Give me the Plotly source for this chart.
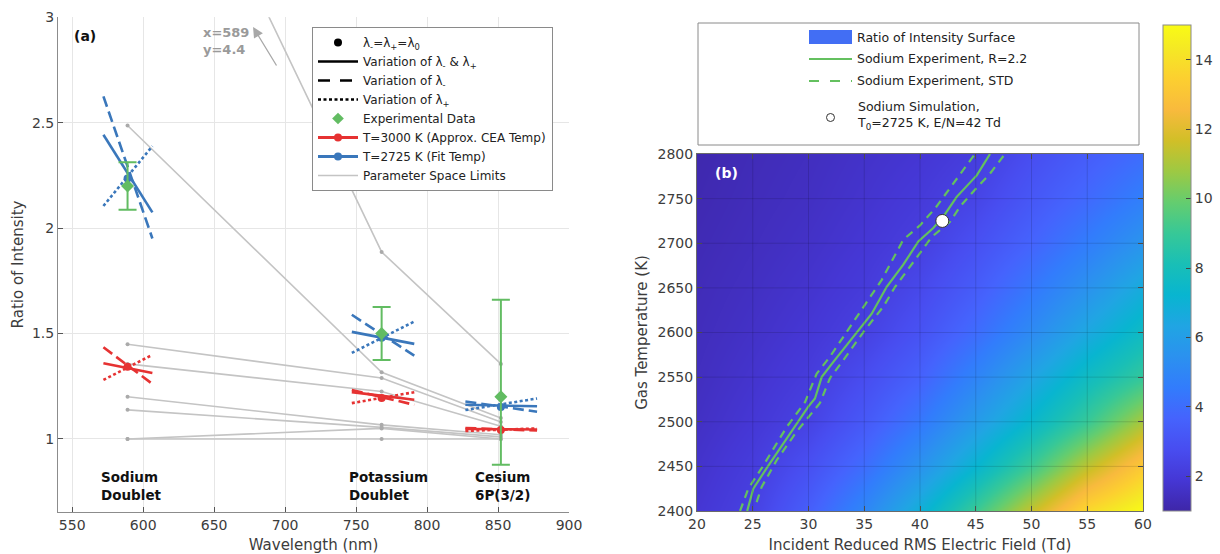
import plotly.graph_objects as go

# ---------------- Panel (a) data ----------------
element_labels = ["Sodium<br>Doublet", "Potassium<br>Doublet", "Cesium<br>6P(3/2)"]
wavelength_nm = [589, 768, 852]
seg_lo_nm = [572, 747, 827]
seg_hi_nm = [606.5, 791, 877.5]

exp_ratio = [2.2, 1.5, 1.2]
exp_err_plus = [0.113, 0.126, 0.46]
exp_err_minus = [0.113, 0.126, 0.322]

t3000_center = [1.343, 1.194, 1.043]
t3000_both_lo = [1.359, 1.222, 1.047]
t3000_both_hi = [1.313, 1.186, 1.045]
t3000_minus_lo = [1.435, 1.232, 1.052]
t3000_minus_hi = [1.261, 1.162, 1.040]
t3000_plus_lo = [1.280, 1.170, 1.038]
t3000_plus_hi = [1.399, 1.222, 1.050]

t2725_center = [2.236, 1.480, 1.152]
t2725_both_lo = [2.443, 1.508, 1.162]
t2725_both_hi = [2.075, 1.451, 1.155]
t2725_minus_lo = [2.625, 1.589, 1.178]
t2725_minus_hi = [1.951, 1.395, 1.129]
t2725_plus_lo = [2.105, 1.408, 1.137]
t2725_plus_hi = [2.389, 1.557, 1.192]

limits_na = [4.4, 2.487, 1.449, 1.356, 1.200, 1.138, 1.000, 1.000]
limits_k = [1.887, 1.316, 1.289, 1.225, 1.067, 1.055, 1.050, 1.000]
limits_cs = [1.356, 1.100, 1.080, 1.060, 1.020, 1.010, 1.000, 1.000]

x_ticks_a = [550, 600, 650, 700, 750, 800, 850, 900]
y_ticks_a = [1, 1.5, 2, 2.5, 3]

# ---------------- Panel (b) data ----------------
efield_td = [20, 25, 30, 35, 40, 45, 50, 55, 60]
gas_temp_k = [2400, 2450, 2500, 2550, 2600, 2650, 2700, 2750, 2800]
ratio_surface = [
    [1.85, 2.32, 3.50, 5.00, 6.90, 9.10, 11.5, 13.8, 15.0],
    [1.70, 2.12, 2.90, 4.00, 5.50, 7.20, 9.10, 11.3, 13.2],
    [1.55, 1.90, 2.36, 3.25, 4.40, 5.90, 7.40, 9.00, 11.0],
    [1.45, 1.75, 2.10, 2.75, 3.60, 4.90, 6.30, 7.70, 8.90],
    [1.38, 1.62, 1.90, 2.30, 3.00, 4.00, 5.20, 6.50, 7.70],
    [1.32, 1.52, 1.75, 2.05, 2.60, 3.40, 4.40, 5.50, 6.70],
    [1.25, 1.43, 1.62, 1.88, 2.22, 2.90, 3.70, 4.60, 5.60],
    [1.18, 1.36, 1.52, 1.75, 2.02, 2.45, 3.20, 3.90, 4.70],
    [1.12, 1.30, 1.45, 1.65, 1.85, 2.15, 2.80, 3.40, 4.00],
]

r22_e = [24.5, 25.05, 26.25, 28.34, 29.98, 30.58, 31.18, 32.23, 34.02, 35.67,
         37.0, 38.5, 39.85, 41.19, 42.1, 43.29, 45.09, 46.28]
r22_t = [2400, 2425, 2448, 2487, 2517, 2526, 2550, 2567, 2595, 2621,
         2651, 2676, 2702, 2717, 2730, 2752, 2776, 2800]

std_lo_e = [23.86, 24.6, 25.8, 28.04, 29.69, 30.74, 31.93, 33.43, 35.37, 36.57,
            38.5, 40.0, 41.35, 42.99, 44.93]
std_lo_t = [2400, 2425, 2448, 2494, 2522, 2554, 2573, 2601, 2636, 2659,
            2704, 2720, 2739, 2767, 2800]

std_hi_e = [25.35, 25.8, 27.15, 28.94, 31.03, 31.93, 33.12, 35.07, 36.71, 37.76,
            40.0, 41.05, 42.69, 43.59, 44.93, 46.28, 47.62]
std_hi_t = [2410, 2427, 2457, 2489, 2521, 2549, 2569, 2603, 2629, 2651,
            2689, 2707, 2724, 2741, 2760, 2778, 2800]

sim_e = [42]
sim_t = [2725]

x_ticks_b = [20, 25, 30, 35, 40, 45, 50, 55, 60]
y_ticks_b = [2400, 2450, 2500, 2550, 2600, 2650, 2700, 2750, 2800]
cbar_ticks = [2, 4, 6, 8, 10, 12, 14]

# ---------------- styles ----------------
FONT = "DejaVu Sans"
RED = "rgb(230,50,50)"
BLUE = "rgb(58,119,187)"
GREEN = "rgb(98,188,98)"
GRAY = "rgb(196,196,196)"
GREEN_B = "rgb(100,192,95)"
TXT = "#3c3c3c"
DASH = "11px,5px"
DOT = "3px,2.5px"

parula = [
    [0 / 63, "rgb(62,38,168)"], [4 / 63, "rgb(69,55,213)"], [8 / 63, "rgb(72,77,240)"],
    [12 / 63, "rgb(69,99,253)"], [16 / 63, "rgb(50,124,252)"], [20 / 63, "rgb(43,145,239)"],
    [24 / 63, "rgb(32,165,227)"], [28 / 63, "rgb(8,181,208)"], [32 / 63, "rgb(25,191,182)"],
    [36 / 63, "rgb(55,200,151)"], [40 / 63, "rgb(100,205,111)"], [44 / 63, "rgb(157,201,67)"],
    [48 / 63, "rgb(209,191,39)"], [52 / 63, "rgb(248,186,61)"], [56 / 63, "rgb(252,207,48)"],
    [60 / 63, "rgb(245,233,36)"], [1.0, "rgb(249,251,21)"],
]

W, H = 1220, 554


def px(xp):
    return xp / W


def py(yp):
    return 1 - yp / H


fig = go.Figure()


def segs(lo_vals, hi_vals):
    xs, ys = [], []
    for i in range(len(wavelength_nm)):
        xs += [seg_lo_nm[i], seg_hi_nm[i], None]
        ys += [lo_vals[i], hi_vals[i], None]
    return xs, ys


# Parameter-space limit lines
for i in range(len(limits_na)):
    fig.add_trace(go.Scatter(
        x=wavelength_nm, y=[limits_na[i], limits_k[i], limits_cs[i]],
        mode="lines+markers", line=dict(color=GRAY, width=1.6),
        marker=dict(color="rgb(170,170,170)", size=4),
        showlegend=False, hoverinfo="skip", xaxis="x", yaxis="y"))

# Temperature series segments
for color, center, both, minus, plus in [
    (RED, t3000_center, (t3000_both_lo, t3000_both_hi), (t3000_minus_lo, t3000_minus_hi), (t3000_plus_lo, t3000_plus_hi)),
    (BLUE, t2725_center, (t2725_both_lo, t2725_both_hi), (t2725_minus_lo, t2725_minus_hi), (t2725_plus_lo, t2725_plus_hi)),
]:
    for pair, dash in [(both, "solid"), (minus, DASH), (plus, DOT)]:
        xs, ys = segs(*pair)
        fig.add_trace(go.Scatter(x=xs, y=ys, mode="lines",
                                 line=dict(color=color, width=2.6, dash=dash),
                                 showlegend=False, xaxis="x", yaxis="y"))
    fig.add_trace(go.Scatter(x=wavelength_nm, y=center, mode="markers",
                             marker=dict(color=color, size=8),
                             showlegend=False, xaxis="x", yaxis="y"))

# Experimental data
fig.add_trace(go.Scatter(
    x=wavelength_nm, y=exp_ratio, mode="markers",
    marker=dict(symbol="diamond", color=GREEN, size=10),
    error_y=dict(type="data", symmetric=False, array=exp_err_plus,
                 arrayminus=exp_err_minus, color=GREEN, thickness=2, width=9),
    showlegend=False, xaxis="x", yaxis="y"))

# Legend entries for panel (a)
legend_items = [
    ("λ<sub>-</sub>=λ<sub>+</sub>=λ<sub>0</sub>", dict(mode="markers", marker=dict(color="black", size=8))),
    ("Variation of λ<sub>-</sub> &amp; λ<sub>+</sub>", dict(mode="lines", line=dict(color="black", width=2.6))),
    ("Variation of λ<sub>-</sub>", dict(mode="lines", line=dict(color="black", width=2.6, dash="12px,10px"))),
    ("Variation of λ<sub>+</sub>", dict(mode="lines", line=dict(color="black", width=2.6, dash=DOT))),
    ("Experimental Data", dict(mode="markers", marker=dict(symbol="diamond", color=GREEN, size=9))),
    ("T=3000 K (Approx. CEA Temp)", dict(mode="lines+markers", line=dict(color=RED, width=3), marker=dict(color=RED, size=8))),
    ("T=2725 K (Fit Temp)", dict(mode="lines+markers", line=dict(color=BLUE, width=3), marker=dict(color=BLUE, size=8))),
    ("Parameter Space Limits", dict(mode="lines", line=dict(color=GRAY, width=1.6))),
]
for name, kw in legend_items:
    fig.add_trace(go.Scatter(x=[None], y=[None], name=name, showlegend=True,
                             xaxis="x", yaxis="y", **kw))

# ---------------- Panel (b) ----------------
fig.add_trace(go.Heatmap(
    x=efield_td, y=gas_temp_k, z=ratio_surface, zsmooth="best",
    colorscale=parula, zmin=1, zmax=15, xaxis="x2", yaxis="y2",
    colorbar=dict(x=px(1163), xanchor="left", xpad=0, ypad=0, thickness=28,
                  len=486, lenmode="pixels", y=py(511), yanchor="bottom",
                  tickvals=cbar_ticks, ticks="inside", ticklen=5, tickcolor="#444",
                  outlinecolor="#8a8a8a", outlinewidth=1,
                  tickfont=dict(size=14, color=TXT, family=FONT)),
    showscale=True))

fig.add_trace(go.Scatter(x=std_lo_e, y=std_lo_t, mode="lines",
                         line=dict(color=GREEN_B, width=2.2, dash="8px,6px"),
                         showlegend=False, xaxis="x2", yaxis="y2"))
fig.add_trace(go.Scatter(x=std_hi_e, y=std_hi_t, mode="lines",
                         line=dict(color=GREEN_B, width=2.2, dash="8px,6px"),
                         showlegend=False, xaxis="x2", yaxis="y2"))
fig.add_trace(go.Scatter(x=r22_e, y=r22_t, mode="lines",
                         line=dict(color=GREEN_B, width=2.2),
                         showlegend=False, xaxis="x2", yaxis="y2"))
fig.add_trace(go.Scatter(x=sim_e, y=sim_t, mode="markers",
                         marker=dict(color="white", size=13, line=dict(color="#333", width=1)),
                         showlegend=False, xaxis="x2", yaxis="y2"))

shapes = []
# grid over heatmap
for xv in x_ticks_b[1:-1]:
    shapes.append(dict(type="line", xref="x2", yref="y2", x0=xv, x1=xv,
                       y0=y_ticks_b[0], y1=y_ticks_b[-1], layer="above",
                       line=dict(color="rgba(0,0,0,0.13)", width=1)))
for yv in y_ticks_b[1:-1]:
    shapes.append(dict(type="line", xref="x2", yref="y2", y0=yv, y1=yv,
                       x0=x_ticks_b[0], x1=x_ticks_b[-1], layer="above",
                       line=dict(color="rgba(0,0,0,0.13)", width=1)))

# manual legend box for panel (b)
shapes.append(dict(type="rect", xref="paper", yref="paper", x0=px(698), x1=px(1139),
                   y0=py(145), y1=py(23), line=dict(color="#8a8a8a", width=1),
                   fillcolor="white", layer="above"))
shapes.append(dict(type="rect", xref="paper", yref="paper", x0=px(809), x1=px(852),
                   y0=py(44), y1=py(30), line=dict(width=0),
                   fillcolor="rgb(66,110,244)", layer="above"))
shapes.append(dict(type="line", xref="paper", yref="paper", x0=px(809), x1=px(852),
                   y0=py(59), y1=py(59), line=dict(color=GREEN_B, width=2.2), layer="above"))
shapes.append(dict(type="line", xref="paper", yref="paper", x0=px(809), x1=px(852),
                   y0=py(81), y1=py(81), line=dict(color=GREEN_B, width=2.2, dash="10px,11px"),
                   layer="above"))
shapes.append(dict(type="circle", xref="paper", yref="paper", x0=px(826.5), x1=px(834.5),
                   y0=py(121.5), y1=py(113.5), line=dict(color="#333", width=1),
                   fillcolor="white", layer="above"))

annotations = []
leg_b_texts = [
    ("Ratio of Intensity Surface", 37),
    ("Sodium Experiment, R=2.2", 59),
    ("Sodium Experiment, STD", 81),
    ("Sodium Simulation,<br>T<sub>0</sub>=2725 K, E/N=42 Td", 116),
]
for txt, yy in leg_b_texts:
    annotations.append(dict(text=txt, xref="paper", yref="paper", x=px(855), y=py(yy),
                            xanchor="left", yanchor="middle", align="left", showarrow=False,
                            font=dict(size=12.5, color="#222", family=FONT)))

# panel (a) text annotations
annotations.append(dict(text="<b>(a)</b>", xref="paper", yref="paper", x=px(72), y=py(36),
                        xanchor="left", yanchor="middle", showarrow=False,
                        font=dict(size=14, color="#111", family=FONT)))
annotations.append(dict(text="<b>x=589<br>y=4.4</b>", xref="paper", yref="paper",
                        x=px(201), y=py(23), xanchor="left", yanchor="top", align="left",
                        showarrow=False, font=dict(size=13, color="#9a9a9a", family=FONT)))
annotations.append(dict(text=" ", xref="x", yref="y", x=677.4, y=2.954, ax=25, ay=41,
                        showarrow=True, arrowhead=2, arrowsize=1.6, arrowwidth=1.3,
                        arrowcolor="#a8a8a8", font=dict(size=2)))
label_left_px = [99, 347, 473]
for lbl, lx in zip(element_labels, label_left_px):
    annotations.append(dict(text="<b>" + lbl + "</b>", xref="paper", yref="paper",
                            x=px(lx), y=py(486), xanchor="left", yanchor="middle",
                            align="left", showarrow=False,
                            font=dict(size=13.5, color="#111", family=FONT)))
annotations.append(dict(text="<b>(b)</b>", xref="paper", yref="paper", x=px(713), y=py(173),
                        xanchor="left", yanchor="middle", showarrow=False,
                        font=dict(size=14, color="white", family=FONT)))

axis_common = dict(ticks="inside", ticklen=5, tickcolor="#555", showline=True,
                   zeroline=False, automargin=False,
                   tickfont=dict(size=14, color=TXT, family=FONT))

fig.update_layout(
    width=W, height=H, margin=dict(l=0, r=0, t=0, b=0, autoexpand=False),
    paper_bgcolor="white", plot_bgcolor="white",
    font=dict(family=FONT, color=TXT),
    xaxis=dict(domain=[px(58), px(569)], range=[540, 900], tickvals=x_ticks_a,
               showgrid=True, gridcolor="#e6e6e6", linecolor="#8c8c8c", mirror=False,
               title=dict(text="Wavelength (nm)", font=dict(size=15, color=TXT), standoff=9),
               anchor="y", **axis_common),
    yaxis=dict(domain=[py(511.7), py(17.3)], range=[0.655, 3], tickvals=y_ticks_a,
               showgrid=True, gridcolor="#e6e6e6", linecolor="#8c8c8c", mirror=False,
               title=dict(text="Ratio of Intensity", font=dict(size=15, color=TXT), standoff=4),
               anchor="x", **axis_common),
    xaxis2=dict(domain=[px(697), px(1143)], range=[20, 60], tickvals=x_ticks_b,
                showgrid=False, linecolor="#6a6a6a", mirror="allticks",
                title=dict(text="Incident Reduced RMS Electric Field (Td)", font=dict(size=15, color=TXT), standoff=9),
                anchor="y2", **axis_common),
    yaxis2=dict(domain=[py(511), py(154)], range=[2400, 2800], tickvals=y_ticks_b,
                showgrid=False, linecolor="#6a6a6a", mirror="allticks",
                title=dict(text="Gas Temperature (K)", font=dict(size=15, color=TXT), standoff=6),
                anchor="x2", **axis_common),
    legend=dict(x=px(312), y=py(27), xanchor="left", yanchor="top", bgcolor="white",
                bordercolor="#8a8a8a", borderwidth=1, tracegroupgap=0, itemwidth=40,
                font=dict(size=12, color="#222", family=FONT)),
    shapes=shapes, annotations=annotations,
)

fig.write_html("out.html")
